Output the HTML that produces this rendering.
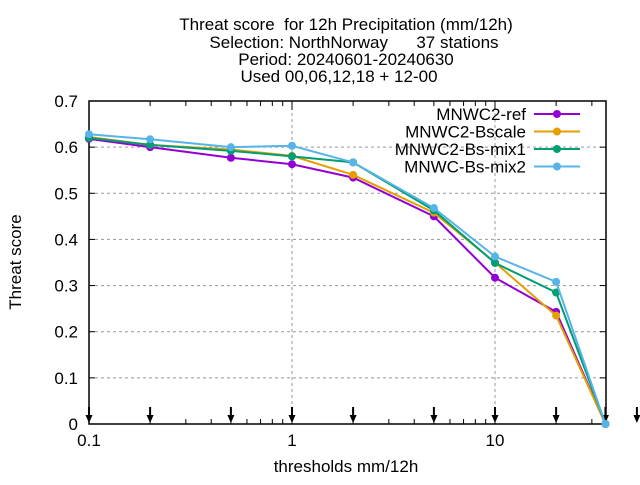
<!DOCTYPE html>
<html><head><meta charset="utf-8"><style>
body{margin:0;background:#fff}
svg{font-family:"Liberation Sans",sans-serif}
text{white-space:pre}
</style></head><body>
<svg id="chart" width="640" height="480" viewBox="0 0 640 480">
<g font-size="17" text-anchor="middle" fill="#000">
<text x="346" y="30" xml:space="preserve">Threat score  for 12h Precipitation (mm/12h)</text>
<text x="354" y="48" xml:space="preserve">Selection: NorthNorway      37 stations</text>
<text x="346" y="65">Period: 20240601-20240630</text>
<text x="339" y="82">Used 00,06,12,18 + 12-00</text>
</g>
<g id="grid"></g>
<g id="axes"></g>
<g id="series"></g>
<g id="legend"></g>
<text x="21" y="262" font-size="17" text-anchor="middle" transform="rotate(-90 21 262)">Threat score</text>
<text x="346" y="472" font-size="17" text-anchor="middle">thresholds mm/12h</text>
</svg>
<script>
const thresholds=[0.1,0.2,0.5,1,2,5,10,20,35];
const seriesNames=["MNWC2-ref","MNWC2-Bscale","MNWC2-Bs-mix1","MNWC-Bs-mix2"];
const refVals=[0.618,0.600,0.577,0.563,0.534,0.450,0.317,0.243,0];
const bscaleVals=[0.622,0.605,0.595,0.581,0.540,0.458,0.350,0.235,0];
const mix1Vals=[0.620,0.605,0.592,0.580,0.567,0.463,0.349,0.285,0];
const mix2Vals=[0.628,0.617,0.600,0.603,0.567,0.468,0.363,0.308,0];
const yTicks=[0,0.1,0.2,0.3,0.4,0.5,0.6,0.7];
const xTickLabels=[0.1,1,10];
const arrowXs=[0.1,0.2,0.5,1,2,5,10,20,35,50];
const colors=["#9400d3","#e69f00","#009e73","#56b4e9"];
const allVals=[refVals,bscaleVals,mix1Vals,mix2Vals];
const L=89,R=606,T=101,B=424,ymax=0.7;
const dec=203;
const X=v=>L+Math.log10(v/0.1)*dec;
const Y=v=>B-(v/ymax)*(B-T);
const NS="http://www.w3.org/2000/svg";
function mk(tag,attrs,parent){const e=document.createElementNS(NS,tag);for(const k in attrs)e.setAttribute(k,attrs[k]);parent.appendChild(e);return e;}
const grid=document.getElementById('grid'),axes=document.getElementById('axes'),ser=document.getElementById('series'),leg=document.getElementById('legend');
yTicks.forEach(t=>{
 if(t>0&&t<ymax){const g=mk('line',{x1:L,x2:R,y1:Y(t),y2:Y(t),stroke:'#999','stroke-dasharray':'3,3'},grid);
 
 }
 const tk=mk('line',{x1:L,x2:L+6,y1:Y(t),y2:Y(t),stroke:'#000'},axes);
 
 
 mk('line',{x1:R,x2:R-6,y1:Y(t),y2:Y(t),stroke:'#000'},axes);
 const tx=mk('text',{x:L-11,y:Y(t)+6,'font-size':17,'text-anchor':'end'},axes);tx.textContent=t===0?'0':t.toFixed(1);
 
 
});
xTickLabels.forEach(t=>{
 if(t>0.1){const g=mk('line',{x1:X(t),x2:X(t),y1:T,y2:B,stroke:'#999','stroke-dasharray':'3,3'},grid);
 
 }
 const tx=mk('text',{x:X(t),y:B+22,'font-size':17,'text-anchor':'middle'},axes);tx.textContent=String(t);
 
 
});
for(let d=0.1;d<40;d*=10){for(let m=1;m<10;m++){const v=d*m;if(v<=35.01){const big=m===1;
 mk('line',{x1:X(v),x2:X(v),y1:B,y2:B-(big?9:5),stroke:'#000'},axes);
 mk('line',{x1:X(v),x2:X(v),y1:T,y2:T+(big?9:5),stroke:'#000'},axes);}}}
mk('rect',{x:L,y:T,width:R-L,height:B-T,fill:'none',stroke:'#000','stroke-width':1.5},axes);
arrowXs.forEach(v=>{const x=X(v);
 const a=mk('g',{},axes);
 
 
 mk('line',{x1:x,x2:x,y1:407,y2:420,stroke:'#000','stroke-width':2},a);
 mk('path',{d:`M${x-3.5},${415}L${x+3.5},${415}L${x},${423}Z`,fill:'#000'},a);
});
allVals.forEach((vals,i)=>{
 const g=mk('g',{},ser);
 
 
 const pts=vals.map((v,j)=>X(thresholds[j])+','+Y(v)).join(' ');
 mk('polyline',{points:pts,fill:'none',stroke:colors[i],'stroke-width':2},g);
 vals.forEach((v,j)=>{const p=mk('circle',{cx:X(thresholds[j]),cy:Y(v),r:4,fill:colors[i]},g);
 
 });
 const ly=114+i*17.5;
 const e=mk('g',{},leg);
 
 
 const t=mk('text',{x:526,y:ly+6,'font-size':17,'text-anchor':'end'},e);t.textContent=seriesNames[i];
 mk('line',{x1:534,x2:580,y1:ly,y2:ly,stroke:colors[i],'stroke-width':2},e);
 mk('circle',{cx:557,cy:ly,r:4,fill:colors[i]},e);
});
</script>
</body></html>
